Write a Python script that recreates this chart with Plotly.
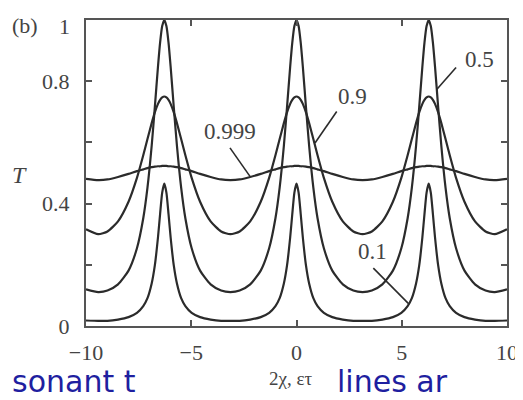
import plotly.graph_objects as go

# x positions (2chi, eps*tau)
x_vals = [
    -10.0, -9.42,
    -8.98, -8.48, -7.98, -7.58, -7.28, -7.08, -6.88, -6.73, -6.58, -6.48, -6.38, -6.28,
    -6.18, -6.08, -5.98, -5.83, -5.68, -5.48, -5.28, -4.98, -4.58, -4.08, -3.58, -3.14,
    -2.7, -2.2, -1.7, -1.3, -1.0, -0.8, -0.6, -0.45, -0.3, -0.2, -0.1, 0.0,
    0.1, 0.2, 0.3, 0.45, 0.6, 0.8, 1.0, 1.3, 1.7, 2.2, 2.7, 3.14,
    3.58, 4.08, 4.58, 4.98, 5.28, 5.48, 5.68, 5.83, 5.98, 6.08, 6.18, 6.28,
    6.38, 6.48, 6.58, 6.73, 6.88, 7.08, 7.28, 7.58, 7.98, 8.48, 8.98, 9.42,
    10.0,
]

T_0999 = [
    0.481, 0.477,
    0.479, 0.487, 0.497, 0.506, 0.512, 0.516, 0.519, 0.521, 0.522, 0.522, 0.523, 0.523,
    0.523, 0.522, 0.522, 0.521, 0.519, 0.516, 0.512, 0.506, 0.497, 0.487, 0.479, 0.477,
    0.479, 0.487, 0.497, 0.506, 0.512, 0.516, 0.519, 0.521, 0.522, 0.522, 0.523, 0.523,
    0.523, 0.522, 0.522, 0.521, 0.519, 0.516, 0.512, 0.506, 0.497, 0.487, 0.479, 0.477,
    0.479, 0.487, 0.497, 0.506, 0.512, 0.516, 0.519, 0.521, 0.522, 0.522, 0.523, 0.523,
    0.523, 0.522, 0.522, 0.521, 0.519, 0.516, 0.512, 0.506, 0.497, 0.487, 0.479, 0.477,
    0.481,
]

T_09 = [
    0.316, 0.300,
    0.309, 0.342, 0.406, 0.484, 0.558, 0.611, 0.663, 0.698, 0.726, 0.739, 0.747, 0.750,
    0.747, 0.739, 0.726, 0.698, 0.663, 0.611, 0.558, 0.484, 0.406, 0.342, 0.309, 0.300,
    0.309, 0.342, 0.406, 0.484, 0.558, 0.611, 0.663, 0.698, 0.726, 0.739, 0.747, 0.750,
    0.747, 0.739, 0.726, 0.698, 0.663, 0.611, 0.558, 0.484, 0.406, 0.342, 0.309, 0.300,
    0.309, 0.342, 0.406, 0.484, 0.558, 0.611, 0.663, 0.698, 0.726, 0.739, 0.747, 0.750,
    0.747, 0.739, 0.726, 0.698, 0.663, 0.611, 0.558, 0.484, 0.406, 0.342, 0.309, 0.300,
    0.316,
]

T_05 = [
    0.120, 0.111,
    0.116, 0.136, 0.181, 0.254, 0.352, 0.452, 0.589, 0.715, 0.848, 0.926, 0.980, 1.000,
    0.980, 0.926, 0.848, 0.715, 0.589, 0.452, 0.352, 0.254, 0.181, 0.136, 0.116, 0.111,
    0.116, 0.136, 0.181, 0.254, 0.352, 0.452, 0.589, 0.715, 0.848, 0.926, 0.980, 1.000,
    0.980, 0.926, 0.848, 0.715, 0.589, 0.452, 0.352, 0.254, 0.181, 0.136, 0.116, 0.111,
    0.116, 0.136, 0.181, 0.254, 0.352, 0.452, 0.589, 0.715, 0.848, 0.926, 0.980, 1.000,
    0.980, 0.926, 0.848, 0.715, 0.589, 0.452, 0.352, 0.254, 0.181, 0.136, 0.116, 0.111,
    0.120,
]

T_01 = [
    0.018, 0.017,
    0.017, 0.021, 0.029, 0.043, 0.065, 0.091, 0.139, 0.198, 0.290, 0.366, 0.436, 0.465,
    0.436, 0.366, 0.290, 0.198, 0.139, 0.091, 0.065, 0.043, 0.029, 0.021, 0.017, 0.017,
    0.017, 0.021, 0.029, 0.043, 0.065, 0.091, 0.139, 0.198, 0.290, 0.366, 0.436, 0.465,
    0.436, 0.366, 0.290, 0.198, 0.139, 0.091, 0.065, 0.043, 0.029, 0.021, 0.017, 0.017,
    0.017, 0.021, 0.029, 0.043, 0.065, 0.091, 0.139, 0.198, 0.290, 0.366, 0.436, 0.465,
    0.436, 0.366, 0.290, 0.198, 0.139, 0.091, 0.065, 0.043, 0.029, 0.021, 0.017, 0.017,
    0.018,
]

x_tickvals = [-10, -5, 0, 5, 10]
x_ticktext = ["\u221210", "\u22125", "0", "5", "10"]
y_tickvals = [0, 0.2, 0.4, 0.6, 0.8, 1.0]
y_ticktext = ["0", "", "0.4", "", "0.8", ""]  # "1" is drawn as an annotation below
y_top_label = "1"

SERIF = "Liberation Serif"
LINE = "#2b2b2b"
AX = "#555555"
TXT = "#444444"

fig = go.Figure()
for name, ys in [("0.999", T_0999), ("0.9", T_09), ("0.5", T_05), ("0.1", T_01)]:
    fig.add_trace(go.Scatter(
        x=x_vals, y=ys, mode="lines", name=name,
        line=dict(color=LINE, width=2.2, shape="spline", smoothing=0.6),
        showlegend=False, hoverinfo="skip",
    ))

axis_common = dict(
    ticks="inside", ticklen=6, tickwidth=1.5, tickcolor=AX,
    showline=True, linecolor=AX, linewidth=2, mirror="ticks",
    showgrid=False, zeroline=False, automargin=False, ticklabeloverflow="allow",
    tickfont=dict(family=SERIF, size=22, color=TXT),
)

# the page body has an 8px margin, so the figure is sized/margined to compensate
fig.update_layout(
    width=515, height=392,
    margin=dict(l=78, r=16, t=12, b=74),
    plot_bgcolor="white", paper_bgcolor="white",
    xaxis=dict(range=[-10, 10], tickvals=x_tickvals, ticktext=x_ticktext,
               ticklabelstandoff=6, **axis_common),
    yaxis=dict(range=[0, 1], tickvals=y_tickvals, ticktext=y_ticktext,
               ticklabelstandoff=10, **axis_common),
)

fig.add_annotation(x=-0.033, y=0.979, xref="paper", yref="paper", text=y_top_label,
                   xanchor="right", yanchor="middle", showarrow=False,
                   font=dict(family=SERIF, size=22, color=TXT))

# curve labels
labels = [
    ("0.999", -3.16, 0.635),
    ("0.9", 2.68, 0.75),
    ("0.5", 8.67, 0.871),
    ("0.1", 3.59, 0.242),
]
for t, lx, ly in labels:
    fig.add_annotation(x=lx, y=ly, xref="x", yref="y", text=t, showarrow=False,
                       xanchor="center", yanchor="middle",
                       font=dict(family=SERIF, size=23, color=TXT))

leaders = [
    (-3.16, 0.582, -2.21, 0.489),
    (1.91, 0.701, 0.88, 0.598),
    (7.58, 0.845, 6.66, 0.773),
    (3.65, 0.189, 5.31, 0.074),
]
for x0, y0, x1, y1 in leaders:
    fig.add_shape(type="line", xref="x", yref="y", x0=x0, y0=y0, x1=x1, y1=y1,
                  line=dict(color=LINE, width=1.6))

fig.add_annotation(x=-0.145, y=0.982, xref="paper", yref="paper", text="(b)",
                   xanchor="center", yanchor="middle", showarrow=False,
                   font=dict(family=SERIF, size=22, color=TXT))
fig.add_annotation(x=-0.159, y=0.494, xref="paper", yref="paper", text="<i>T</i>",
                   xanchor="center", yanchor="middle", showarrow=False,
                   font=dict(family=SERIF, size=24, color=TXT))
fig.add_annotation(x=0.485, y=-0.170, xref="paper", yref="paper", text="2\u03c7, \u03b5\u03c4",
                   xanchor="center", yanchor="middle", showarrow=False,
                   font=dict(family=SERIF, size=19, color=TXT))

# handwritten blue notes on the page
fig.add_annotation(x=-0.18, y=-0.18, xref="paper", yref="paper", xanchor="left",
                   yanchor="middle", text="sonant t", showarrow=False,
                   font=dict(family="DejaVu Sans", size=30, color="#1f1fa0"))
fig.add_annotation(x=0.591, y=-0.18, xref="paper", yref="paper", xanchor="left",
                   yanchor="middle", text="lines ar", showarrow=False,
                   font=dict(family="DejaVu Sans", size=30, color="#1f1fa0"))

fig.write_html("out.html")
